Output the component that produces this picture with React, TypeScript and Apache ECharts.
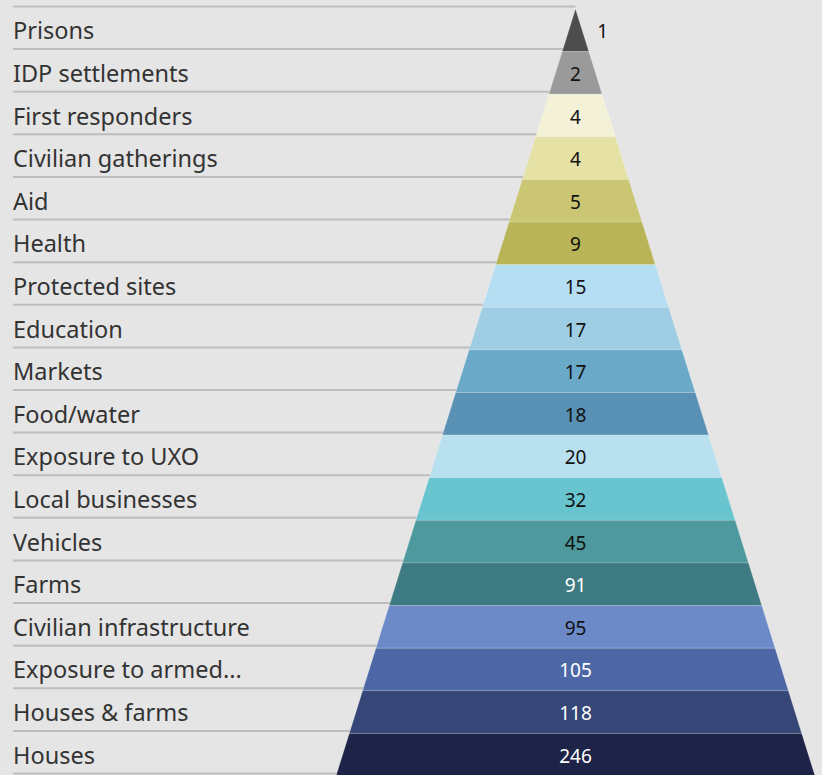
import React, { useEffect, useRef } from "react";
import * as echarts from "echarts";

const categories = [
  "Prisons",
  "IDP settlements",
  "First responders",
  "Civilian gatherings",
  "Aid",
  "Health",
  "Protected sites",
  "Education",
  "Markets",
  "Food/water",
  "Exposure to UXO",
  "Local businesses",
  "Vehicles",
  "Farms",
  "Civilian infrastructure",
  "Exposure to armed...",
  "Houses & farms",
  "Houses",
];

const values = [1, 2, 4, 4, 5, 9, 15, 17, 17, 18, 20, 32, 45, 91, 95, 105, 118, 246];

const bandColors = [
  "#4d4d4d", "#9a9a9a", "#f3f2d8", "#e6e1a5", "#cac673", "#b8b457",
  "#b5def2", "#9ecde4", "#6ba9c9", "#5891b4", "#b9e0ee", "#68c4cf",
  "#4d999d", "#3e7a81", "#6c8ac7", "#4c66a6", "#354677", "#1e2447",
];

const textColors = [
  "#111", "#111", "#111", "#111", "#111", "#111",
  "#111", "#111", "#111", "#111", "#111", "#111",
  "#111", "#ffffff", "#111", "#ffffff", "#ffffff", "#ffffff",
];

export default function App() {
  const ref = useRef<HTMLDivElement>(null);
  useEffect(() => {
    document.body.style.margin = "0";
    document.body.style.background = "#e5e5e5";
    const chart = echarts.init(ref.current!, null, { renderer: "svg" });
    const N = categories.length;
    const lineColor = "#bdbdbd";
    const labelLeft = 13;
    const gridLeft = 336;
    chart.setOption({
      animation: false,
      backgroundColor: "#e5e5e5",
      grid: { left: gridLeft, top: 9, width: 479, height: 767, outerBoundsMode: "none" },
      xAxis: { type: "value", min: -1, max: 1, show: false },
      yAxis: {
        type: "category",
        inverse: true,
        data: categories,
        axisLine: { show: false },
        axisTick: { show: false },
        splitLine: { show: false },
        axisLabel: {
          align: "left",
          margin: gridLeft - labelLeft,
          fontFamily: "Noto Sans",
          fontSize: 23.5,
          color: "#333",
          padding: [2, 0, 0, 0],
        },
      },
      series: [
        {
          type: "custom",
          coordinateSystem: "cartesian2d",
          data: values.map((v, i) => [0, i, v]),
          encode: { x: 0, y: 1 },
          renderItem: (params: any, api: any) => {
            const i = api.value(1);
            const v = api.value(2);
            const c = api.coord([0, i]);
            const bandH = api.size([0, 1])[1];
            const hw = api.size([1, 0])[0];
            const cx = c[0];
            const top = c[1] - bandH / 2;
            const bottom = top + bandH;
            const apexY = top - i * bandH;
            const totalH = N * bandH;
            const ft = i / N;
            const fb = (i + 1) / N;
            const edgeAt = (y: number) => cx - hw * Math.max(0, (y - apexY) / totalH);
            const children: any[] = [
              {
                type: "polygon",
                shape: {
                  points: [
                    [cx - hw * ft, top],
                    [cx + hw * ft, top],
                    [cx + hw * fb, bottom],
                    [cx - hw * fb, bottom],
                  ],
                },
                style: { fill: bandColors[i], stroke: "rgba(255,255,255,0.18)", lineWidth: 1 },
              },
              {
                type: "line",
                shape: { x1: labelLeft, y1: top - 2.5, x2: edgeAt(top - 2.5), y2: top - 2.5 },
                style: { stroke: lineColor, lineWidth: 2 },
              },
            ];
            if (i === N - 1) {
              children.push({
                type: "line",
                shape: { x1: labelLeft, y1: bottom - 2.5, x2: edgeAt(bottom - 2.5), y2: bottom - 2.5 },
                style: { stroke: lineColor, lineWidth: 2 },
              });
            }
            const midY = c[1] + 1;
            const outside = i === 0;
            children.push({
              type: "text",
              x: outside ? cx + hw * ((i + 0.5) / N) + 15 : cx,
              y: midY,
              style: {
                text: String(v),
                fill: textColors[i],
                fontFamily: "Noto Sans",
                fontSize: 19,
                align: outside ? "left" : "center",
                verticalAlign: "middle",
              },
            });
            return { type: "group", children };
          },
        },
      ],
    });
    return () => chart.dispose();
  }, []);
  return <div ref={ref} style={{ width: 822, height: 775 }} />;
}
